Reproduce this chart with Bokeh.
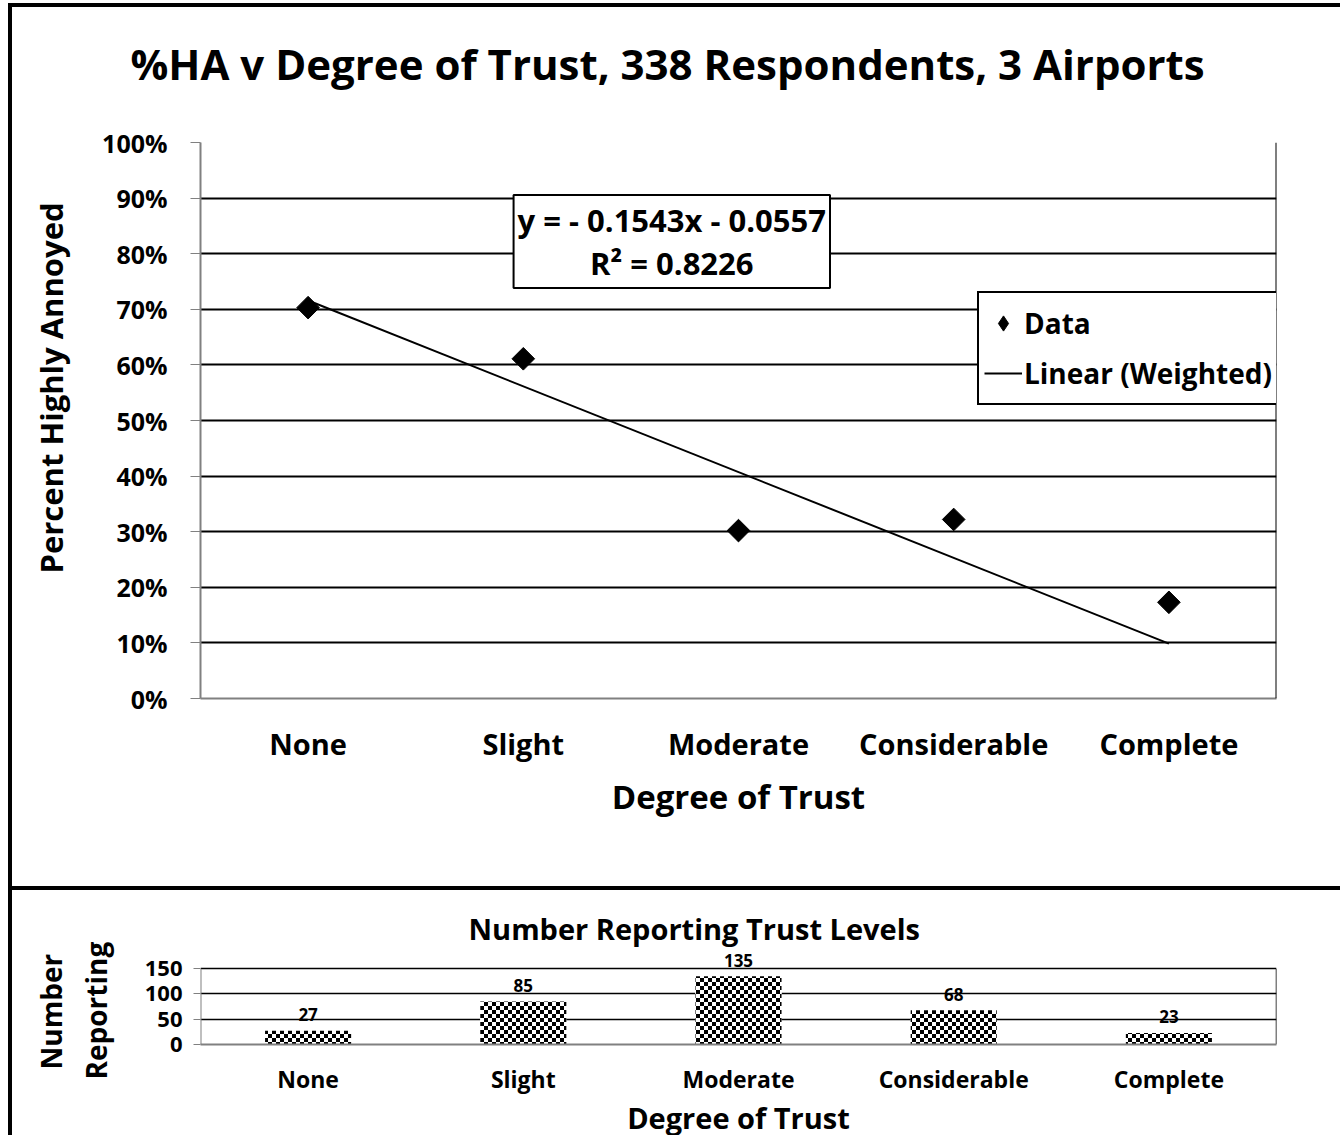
import math, zlib, struct, base64
from bokeh.plotting import figure
from bokeh.models import (FactorRange, Range1d, LabelSet, Span, Legend, LegendItem, Label,
                          ColumnDataSource, FixedTicker, NumeralTickFormatter, Title,
                          ImageURLTexture)
from bokeh.layouts import column
from bokeh.core.properties import value
from bokeh.embed import file_html
from bokeh.resources import INLINE

# ---------------- data ----------------
categories = ["None", "Slight", "Moderate", "Considerable", "Complete"]
pct_highly_annoyed = [0.703, 0.611, 0.302, 0.322, 0.173]
trend_slope = -0.1543
trend_intercept = -0.0557
r_squared = 0.8226
trend_x = [-5, -1]
trend_categories = ["None", "Complete"]
trend_y = [trend_slope * v + trend_intercept for v in trend_x]
pct_ticks = [0.0, 0.1, 0.2, 0.3, 0.4, 0.5, 0.6, 0.7, 0.8, 0.9, 1.0]

number_reporting = [27, 85, 135, 68, 23]
count_ticks = [0, 50, 100, 150]

title_top = "%HA  v Degree of Trust, 338 Respondents, 3 Airports"
title_bottom = "Number Reporting Trust Levels"
x_title = "Degree of Trust"
y_title_top = "Percent Highly Annoyed"
y_title_bottom_lines = ["Number", "Reporting"]
equation_text = "y = - 0.1543x - 0.0557\nR\u00b2 = 0.8226"

FONT = "Open Sans"
GRAY = "#808080"


def checker_png(cell=4):
    n = cell * 2
    rows = b""
    for r in range(n):
        row = b"\x00"
        for c in range(n):
            black = ((r // cell) + (c // cell)) % 2 == 0
            row += b"\x00" if black else b"\xff"
        rows += row
    def chunk(t, d):
        return struct.pack(">I", len(d)) + t + d + struct.pack(">I", zlib.crc32(t + d) & 0xffffffff)
    png = b"\x89PNG\r\n\x1a\n" + chunk(b"IHDR", struct.pack(">IIBBBBB", n, n, 8, 0, 0, 0, 0)) \
        + chunk(b"IDAT", zlib.compress(rows)) + chunk(b"IEND", b"")
    return "data:image/png;base64," + base64.b64encode(png).decode()


def bold(obj, prefix, size):
    setattr(obj, prefix + "text_font", FONT)
    setattr(obj, prefix + "text_font_style", "bold")
    setattr(obj, prefix + "text_font_size", size)
    setattr(obj, prefix + "text_color", "black")


def heading(text, size, **kw):
    return Title(text=text, text_font=FONT, text_font_style="bold", text_font_size=size,
                 text_color="black", **kw)


def spacer(px):
    # blank side panel that only reserves px pixels of space
    return Title(text=" ", text_font_size="10px", standoff=max(px - 16, 0))


# ---------------- top panel ----------------
p = figure(width=1332, height=883, output_backend="svg", toolbar_location=None, title=None,
           x_range=FactorRange(factors=categories), y_range=Range1d(0, 1),
           min_border_left=188, min_border_right=68, min_border_top=135, min_border_bottom=192,
           outline_line_color=None, background_fill_color="white", border_fill_color="white",
           margin=(3, 0, 0, 8),
           styles={"border-top": "4px solid black", "border-left": "4px solid black"})

p.add_layout(spacer(54), "above")
p.add_layout(heading(title_top, "42px", align="left", offset=-70, standoff=0), "above")

p.xgrid.grid_line_color = None
p.ygrid.grid_line_color = "black"
p.ygrid.grid_line_width = 2
p.ygrid.ticker = FixedTicker(ticks=pct_ticks)

p.yaxis.ticker = FixedTicker(ticks=pct_ticks)
p.yaxis.formatter = NumeralTickFormatter(format="0%")
p.yaxis.minor_tick_line_color = None
p.yaxis.major_tick_in = 0
p.yaxis.major_tick_out = 10
p.yaxis.major_tick_line_color = GRAY
p.yaxis.axis_line_color = GRAY
p.yaxis.axis_line_width = 2
p.yaxis.major_label_standoff = 23
bold(p.yaxis[0], "major_label_", "25px")

p.add_layout(spacer(31), "left")
p.add_layout(heading(y_title_top, "31px", align="left", offset=125, standoff=0), "left")

p.xaxis.major_tick_line_color = None
p.xaxis.minor_tick_line_color = None
p.xaxis.axis_line_color = GRAY
p.xaxis.axis_line_width = 2
p.xaxis.major_label_standoff = 19
bold(p.xaxis[0], "major_label_", "29px")
p.xaxis.axis_label = x_title
p.xaxis.axis_label_standoff = 8
bold(p.xaxis[0], "axis_label_", "33px")

p.add_layout(Span(location=len(categories), dimension="height", line_color="black", line_width=2))

r_line = p.line(x=trend_categories, y=trend_y, line_color="black", line_width=2)
# diamond key (hidden under the markers) so that the legend shows a diamond
r_data_key = p.scatter(x=categories, y=pct_highly_annoyed, marker="diamond", size=19,
                       fill_color="black", line_color="black")
r_data = p.scatter(x=categories, y=pct_highly_annoyed, marker="square", angle=math.pi / 4,
                   size=16, fill_color="black", line_color="black")

legend = Legend(items=[LegendItem(label="Data", renderers=[r_data_key]),
                       LegendItem(label="Linear (Weighted)", renderers=[r_line])],
                location=(777, 293), orientation="vertical",
                border_line_color="black", border_line_width=2, border_line_alpha=1.0,
                background_fill_color="white", background_fill_alpha=1.0,
                padding=5, spacing=0, margin=0,
                glyph_width=38, glyph_height=50, label_height=50, label_standoff=2)
bold(legend, "label_", "28px")
p.add_layout(legend)

eq = Label(x=2.19, y=0.822, text=equation_text, text_align="center", text_baseline="middle",
           text_line_height=1.02, border_line_color="black", border_line_width=2,
           background_fill_color="white", padding=4)
bold(eq, "", "31px")
p.add_layout(eq)

# ---------------- bottom panel ----------------
p2 = figure(width=1332, height=249, output_backend="svg", toolbar_location=None, title=None,
            x_range=FactorRange(factors=categories), y_range=Range1d(0, 190),
            min_border_left=188, min_border_right=64, min_border_top=58, min_border_bottom=92,
            outline_line_color=None, background_fill_color="white", border_fill_color="white",
            margin=(0, 0, 0, 8),
            styles={"border-top": "4px solid black", "border-left": "4px solid black"})

p2.add_layout(heading(title_bottom, "29px", align="left", offset=268, standoff=1), "above")

p2.xgrid.grid_line_color = None
p2.ygrid.grid_line_color = "black"
p2.ygrid.grid_line_width = 1.5
p2.ygrid.ticker = FixedTicker(ticks=count_ticks)

p2.yaxis.ticker = FixedTicker(ticks=count_ticks)
p2.yaxis.minor_tick_line_color = None
p2.yaxis.major_tick_in = 0
p2.yaxis.major_tick_out = 7
p2.yaxis.major_tick_line_color = GRAY
p2.yaxis.axis_line_color = None
p2.yaxis.major_label_standoff = 11
bold(p2.yaxis[0], "major_label_", "22px")

# two-line value-axis title: inner line first, outer line second
p2.add_layout(spacer(30), "left")
p2.add_layout(heading(y_title_bottom_lines[1], "28px", align="left", offset=-35, standoff=0), "left")
p2.add_layout(heading(y_title_bottom_lines[0], "28px", align="left", offset=-25, standoff=10), "left")

p2.xaxis.major_tick_line_color = None
p2.xaxis.minor_tick_line_color = None
p2.xaxis.axis_line_color = GRAY
p2.xaxis.axis_line_width = 2
p2.xaxis.major_label_standoff = 12
bold(p2.xaxis[0], "major_label_", "23px")
p2.xaxis.axis_label = x_title
p2.xaxis.axis_label_standoff = 0
bold(p2.xaxis[0], "axis_label_", "29px")

# value-axis line (gray, left) and frame line (black, right), spanning the tick range only
edge_x = [0, len(categories)]
p2.segment(x0=edge_x, y0=[count_ticks[0]] * 2, x1=edge_x, y1=[count_ticks[-1]] * 2,
           line_color=[GRAY, "black"], line_width=[2, 1.5])

checker = ImageURLTexture(url=checker_png(4))

src2 = ColumnDataSource(dict(x=categories, top=number_reporting,
                             label=[str(v) for v in number_reporting]))
p2.vbar(x="x", top="top", source=src2, width=0.4, fill_color="white", line_color=None,
        hatch_pattern=value("checker"), hatch_extra={"checker": checker},
        hatch_color="black", hatch_scale=8)

p2.add_layout(LabelSet(x="x", y="top", text="label", source=src2, y_offset=16,
                       text_align="center", text_baseline="middle", text_color="black",
                       text_font=value(FONT), text_font_style="bold", text_font_size="17px"))

layout = column(p, p2, spacing=0)
open("out.html", "w").write(file_html(layout, INLINE))
